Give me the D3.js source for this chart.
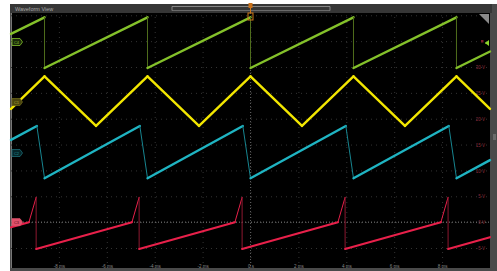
<!DOCTYPE html>
<head>
  <meta charset="utf-8">
  <script src="https://d3js.org/d3.v7.min.js"></script>
  <style>
    body { margin:0; background:#fff; }
    svg { display:block; font-family:"Liberation Sans", Arial, sans-serif; }
    .grid line { stroke:#333; stroke-dasharray:1 4; }
    .grid path { display:none; }
  </style>
</head>
<body>
  <div id="chart"></div>
  <script>
    // time in ms, values in V on the screen scale (red channel's labels)
    const timeTicks = [-8, -6, -4, -2, 0, 2, 4, 6, 8];
    const timeLabels = ['-8 ms', '-6 ms', '-4 ms', '-2 ms', '0 s', '2 ms', '4 ms', '6 ms', '8 ms'];
    const voltTicks = [30, 25, 20, 15, 10, 5, 0, -5];

    const greenT = [-10, -8.6, -8.6, -4.3, -4.3, 0, 0, 4.3, 4.3, 8.6, 8.6, 10];
    const greenV = [36.4, 39.6, 29.8, 39.6, 29.8, 39.6, 29.8, 39.6, 29.8, 39.6, 29.8, 33.0];

    const yellowT = [-10, -8.6, -6.45, -4.3, -2.15, 0, 2.15, 4.3, 6.45, 8.6, 10];
    const yellowV = [21.9, 28.2, 18.6, 28.2, 18.6, 28.2, 18.6, 28.2, 18.6, 28.2, 21.9];

    const cyanT = [-10, -8.92, -8.6, -4.62, -4.3, -0.32, 0, 3.98, 4.3, 8.28, 8.6, 10];
    const cyanV = [15.9, 18.6, 8.5, 18.6, 8.5, 18.6, 8.5, 18.6, 8.5, 18.6, 8.5, 12.0];

    const redT = [-10, -9.25, -8.95, -8.95, -4.95, -4.65, -4.65, -0.65, -0.35, -0.35, 3.65, 3.95, 3.95, 7.95, 8.25, 8.25, 10];
    const redV = [-1.0, 0, 4.8, -5.2, 0, 4.8, -5.2, 0, 4.8, -5.2, 0, 4.8, -5.2, 0, 4.8, -5.2, -2.9];

    const W = 497, H = 271;
    const svg = d3.select('#chart').append('svg').attr('width', W).attr('height', H);

    // frame
    svg.append('rect').attr('x', 10).attr('y', 4).attr('width', 487).attr('height', 267).attr('fill', '#4a4a4a');
    svg.append('rect').attr('x', 10).attr('y', 4).attr('width', 482).attr('height', 9).attr('fill', '#363636');
    svg.append('text').attr('x', 15).attr('y', 10.5).attr('font-size', 5.5).attr('fill', '#a8a8a8').text('Waveform View');
    // overview strip
    svg.append('line').attr('x1', 172).attr('x2', 330).attr('y1', 6.5).attr('y2', 6.5).attr('stroke', '#999').attr('stroke-width', 0.8);
    svg.append('line').attr('x1', 172).attr('x2', 330).attr('y1', 10.5).attr('y2', 10.5).attr('stroke', '#777').attr('stroke-width', 0.8);
    svg.append('line').attr('x1', 172).attr('x2', 172).attr('y1', 6.5).attr('y2', 10.5).attr('stroke', '#999').attr('stroke-width', 0.8);
    svg.append('line').attr('x1', 330).attr('x2', 330).attr('y1', 6.5).attr('y2', 10.5).attr('stroke', '#999').attr('stroke-width', 0.8);

    const pLeft = 11, pRight = 490, pTop = 13, pBottom = 268;
    svg.append('rect').attr('x', pLeft).attr('y', pTop).attr('width', pRight - pLeft).attr('height', pBottom - pTop).attr('fill', '#000');
    svg.append('line').attr('x1', pLeft + 0.5).attr('x2', pLeft + 0.5).attr('y1', pTop).attr('y2', pBottom).attr('stroke', '#777').attr('stroke-width', 1);

    const x = d3.scaleLinear().domain([-10, 10]).range([pLeft, pRight]);
    const y = d3.scaleLinear().domain([-5, 30]).range([248, 67]);

    // grid
    svg.append('g').attr('class', 'grid')
      .attr('transform', `translate(0,${pBottom})`)
      .call(d3.axisBottom(x).tickValues(d3.range(-8, 9, 2)).tickSize(-(pBottom - pTop)).tickFormat(''));
    svg.append('g').attr('class', 'grid')
      .attr('transform', `translate(${pLeft},0)`)
      .call(d3.axisLeft(y).tickValues(d3.range(-5, 41, 5)).tickSize(-(pRight - pLeft)).tickFormat(''));

    // zero level and trigger lines
    svg.append('line').attr('x1', pLeft).attr('x2', pRight).attr('y1', y(0)).attr('y2', y(0))
      .attr('stroke', '#808080').attr('stroke-dasharray', '1 2');
    svg.append('line').attr('x1', x(0)).attr('x2', x(0)).attr('y1', pTop).attr('y2', pBottom)
      .attr('stroke', '#5a5a5a').attr('stroke-dasharray', '1 2');

    // time labels
    const xAxis = svg.append('g').attr('transform', `translate(0,${pBottom - 6})`)
      .call(d3.axisBottom(x).tickValues(timeTicks).tickSize(0).tickFormat((d, i) => timeLabels[i]));
    xAxis.select('.domain').remove();
    xAxis.selectAll('text').attr('font-size', 4.5).attr('fill', '#8a8a8a');

    // volt labels
    const yAxis = svg.append('g').attr('transform', `translate(${pRight - 2},0)`)
      .call(d3.axisLeft(y).tickValues(voltTicks).tickSize(0).tickFormat(d => d + ' V'));
    yAxis.select('.domain').remove();
    yAxis.selectAll('text').attr('font-size', 4.5).attr('fill', '#8c2c3c').attr('dy', '0.35em');

    // waveforms: slow segments thick, fast edges thin (falling edges dimmer)
    function drawTrace(ts, vs, color, edge, w) {
      const g = svg.append('g');
      for (let i = 0; i < ts.length - 1; i++) {
        const x1 = x(ts[i]), x2 = x(ts[i + 1]), y1 = y(vs[i]), y2 = y(vs[i + 1]);
        const steep = Math.abs(y2 - y1) > 2.5 * Math.abs(x2 - x1);
        g.append('line').attr('x1', x1).attr('y1', y1).attr('x2', x2).attr('y2', y2)
          .attr('stroke', steep ? (y2 < y1 ? color : edge) : color)
          .attr('stroke-width', steep ? 1 : w)
          .attr('stroke-linecap', 'round');
      }
    }
    drawTrace(greenT, greenV, '#84c12a', '#4f6d1c', 2.4);
    drawTrace(yellowT, yellowV, '#f2e600', '#a09600', 2.4);
    drawTrace(cyanT, cyanV, '#1fb4c2', '#178590', 2.4);
    drawTrace(redT, redV, '#e8204a', '#8e1830', 2.1);

    // channel tags on the left
    function tag(yy, fill, stroke, label, txt) {
      const g = svg.append('g').attr('transform', `translate(12,${yy})`);
      g.append('path').attr('d', 'M0,-3.5 H8 L10.5,0 L8,3.5 H0 Z').attr('fill', fill).attr('stroke', stroke).attr('stroke-width', 0.8);
      g.append('text').attr('x', 4.5).attr('y', 1.5).attr('font-size', 4).attr('text-anchor', 'middle').attr('fill', txt).text(label);
    }
    tag(42, '#1a2a0a', '#84c12a', 'C4', '#84c12a');
    tag(102, '#4a4510', '#6a6318', 'C1', '#b0a530');
    tag(153, '#06262a', '#1a6b74', 'C2', '#1f8a96');
    tag(y(0), '#e0506a', '#e0506a', 'C3', '#5a1020');

    // trigger marker
    svg.append('rect').attr('x', x(0) - 2).attr('y', 3).attr('width', 4).attr('height', 5).attr('fill', '#c8701a');
    svg.append('rect').attr('x', x(0) - 2.5).attr('y', 13).attr('width', 5).attr('height', 7).attr('fill', 'none').attr('stroke', '#d07a1a').attr('stroke-width', 1);
    svg.append('line').attr('x1', x(0)).attr('x2', x(0)).attr('y1', 8).attr('y2', 13).attr('stroke', '#d07a1a').attr('stroke-width', 1);

    // right side markers
    svg.append('path').attr('d', `M${pRight - 11},${pTop + 1} H${pRight - 1} V${pTop + 11} Z`).attr('fill', '#8a8a8a');
    svg.append('path').attr('d', `M${pRight - 5},43 L${pRight - 1},40 V46 Z`).attr('fill', '#8fd42a');
    svg.append('line').attr('x1', pRight - 5).attr('x2', pRight - 1).attr('y1', 43).attr('y2', 43).attr('stroke', '#8fd42a');
    svg.append('rect').attr('x', pRight - 9).attr('y', 40).attr('width', 2.5).attr('height', 2.5).attr('fill', '#7a1a2a');
    // scrollbar grip
    [135, 137, 139].forEach(v => svg.append('line').attr('x1', 493).attr('x2', 496).attr('y1', v).attr('y2', v).attr('stroke', '#bbb').attr('stroke-width', 0.6));
  </script>
</body>
</html>
